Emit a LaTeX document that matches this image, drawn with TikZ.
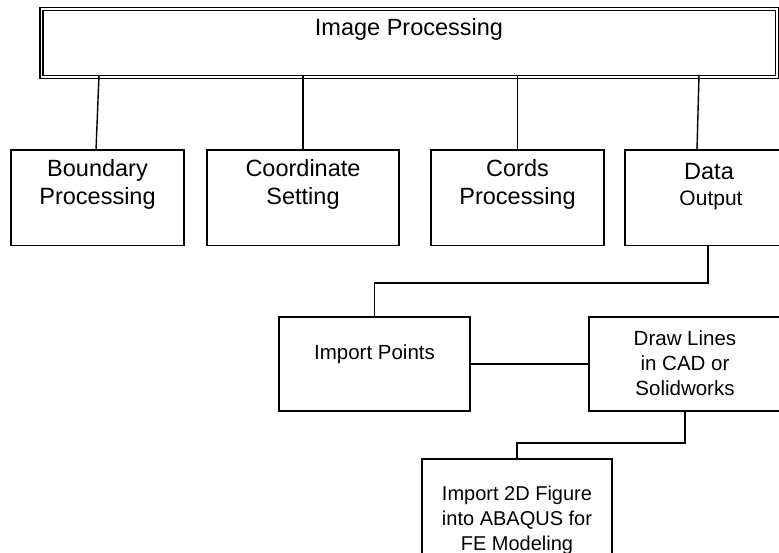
\documentclass[tikz,border=0pt]{standalone}
\usepackage{fontspec}
\setmainfont{Liberation Sans}

\begin{document}
\begin{tikzpicture}[
		x=1pt, y=-1pt,
		line width=1.4pt,
		every node/.style={inner sep=0pt, outer sep=0pt},
		box/.style={draw, rectangle},
		txt/.style={align=center, anchor=base, font=\fontsize{23.5}{28}\selectfont},
		small/.style={align=center, anchor=base, font=\fontsize{20.5}{25}\selectfont}
	]
  \useasboundingbox (0,0) rectangle (779,553);
  \node (img) [box, double, double distance=1.6pt, minimum width=735.5pt, minimum height=68pt] at (409.25,43) {};
  \node (img_txt) [txt] at (409,36) {Image Processing};
  \node (bound) [box, minimum width=173pt, minimum height=95.5pt] at (97.5,197.75) {};
  \node (coord) [box, minimum width=192pt, minimum height=95.5pt] at (303,197.75) {};
  \node (cords) [box, minimum width=173pt, minimum height=95.5pt] at (517.5,197.75) {};
  \node (data) [box, minimum width=172pt, minimum height=95.5pt] at (711,197.75) {};
  % base anchor sits on the last line
  \node (bound_txt) [txt] at (97.5,205) {Boundary\\Processing};
  \node (coord_txt) [txt] at (303,205) {Coordinate\\Setting};
  \node (cords_txt) [txt] at (517.5,205) {Cords\\Processing};
  \node (data_txt) [txt] at (709,180) {Data};
  \node (out_txt) [txt, font=\fontsize{21}{25}\selectfont] at (711,206) {Output};
  \node (imp) [box, minimum width=191pt, minimum height=94pt] at (374.5,364) {};
  \node (drw) [box, minimum width=192pt, minimum height=94pt] at (685,364) {};
  \node (fig) [box, minimum width=190pt, minimum height=100pt] at (517,509) {};
  \node (imp_txt) [small] at (374.5,359) {Import Points};
  \node (drw_txt) [small] at (685,395) {Draw Lines\\in CAD or\\Solidworks};
  \node (fig_txt) [small, font=\fontsize{20}{25}\selectfont] at (517,550) {Import 2D Figure\\into ABAQUS for\\FE Modeling};
  \coordinate (bend1) at (0,283);
  \coordinate (bend2) at (0,443);
  \draw ([xshift=-1.5pt]bound.north) -- ([xshift=1.5pt, yshift=2pt]bound.north |- img.south);
  \draw (coord.north) -- ([yshift=2pt]coord.north |- img.south);
  \draw (cords.north) -- ([yshift=2pt]cords.north |- img.south);
  \draw ([xshift=-14pt]data.north) -- ([xshift=-12pt, yshift=2pt]data.north |- img.south);
  \draw ([xshift=-3pt]data.south) |- (bend1 -| imp.north) -- (imp.north);
  \draw (imp.east) -- (drw.west);
  \draw (drw.south) |- (bend2 -| fig.north) -- (fig.north);
\end{tikzpicture}
\end{document}
